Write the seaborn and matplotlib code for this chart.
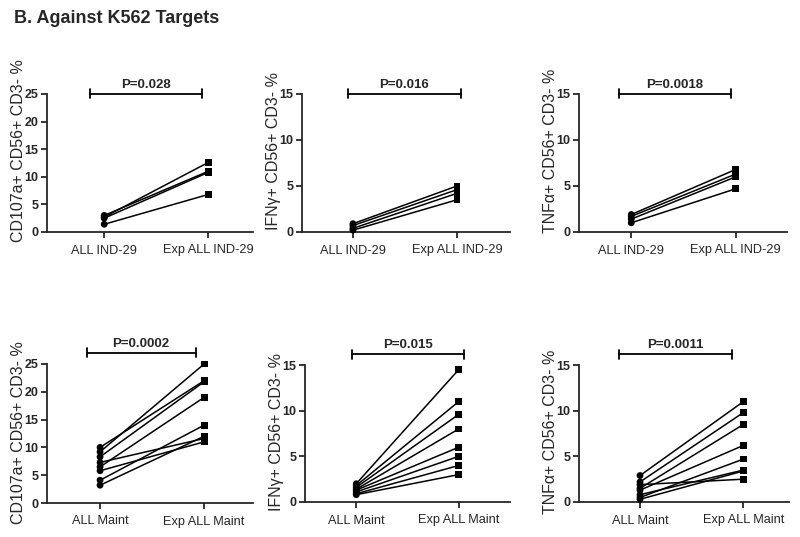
import pandas as pd
import seaborn as sns
import matplotlib.pyplot as plt

# B. Against K562 targets - paired before / after expansion
ind_groups = ["ALL IND-29", "Exp ALL IND-29"]
maint_groups = ["ALL Maint", "Exp ALL Maint"]

cd107a_ind_pre = [2.7, 3.0, 2.5, 1.4]
cd107a_ind_post = [12.6, 11.0, 10.8, 6.8]
ifng_ind_pre = [0.9, 0.7, 0.4, 0.2]
ifng_ind_post = [5.0, 4.6, 4.2, 3.5]
tnfa_ind_pre = [1.9, 1.7, 1.4, 1.0]
tnfa_ind_post = [6.8, 6.3, 6.0, 4.7]

cd107a_maint_pre = [9.2, 10.0, 8.3, 6.5, 4.1, 3.2, 7.3, 5.8]
cd107a_maint_post = [25.0, 22.0, 21.8, 19.0, 14.0, 12.0, 11.6, 11.0]
ifng_maint_pre = [2.0, 1.8, 1.6, 1.4, 1.3, 1.1, 0.9, 0.8]
ifng_maint_post = [14.5, 11.0, 9.6, 8.0, 6.0, 5.0, 4.0, 3.0]
tnfa_maint_pre = [2.9, 2.2, 1.5, 1.3, 0.5, 0.8, 0.3, 1.9]
tnfa_maint_post = [11.0, 9.8, 8.5, 6.2, 4.7, 3.5, 3.4, 2.5]

y_labels = ["CD107a+ CD56+ CD3- %", "IFN\u03b3+ CD56+ CD3- %", "TNF\u03b1+ CD56+ CD3- %"] * 2
p_values = ["P=0.028", "P=0.016", "P=0.0018", "P=0.0002", "P=0.015", "P=0.0011"]
y_max = [25, 15, 15, 25, 15, 15]

panels = [
    (ind_groups, cd107a_ind_pre, cd107a_ind_post),
    (ind_groups, ifng_ind_pre, ifng_ind_post),
    (ind_groups, tnfa_ind_pre, tnfa_ind_post),
    (maint_groups, cd107a_maint_pre, cd107a_maint_post),
    (maint_groups, ifng_maint_pre, ifng_maint_post),
    (maint_groups, tnfa_maint_pre, tnfa_maint_post),
]

# layout (pixels -> figure fractions) and per-panel x range / bracket span
W, H = 800, 537
rects = [
    (47, 232, 206, 138), (302, 232, 208, 138), (579, 232, 208, 138),
    (47, 503, 206, 139), (305, 502, 205, 137), (579, 502, 210, 137),
]
xlims = [(-0.55, 1.43), (-0.49, 1.51), (-0.5, 1.49),
         (-0.51, 1.47), (-0.5, 1.5), (-0.59, 1.44)]
brackets = [(-0.14, 0.94), (-0.05, 1.04), (-0.12, 0.95),
            (-0.13, 0.92), (-0.04, 1.05), (-0.2, 0.89)]

sns.set_style("ticks")
plt.rcParams["font.family"] = ["Liberation Sans", "DejaVu Sans"]

fig = plt.figure(figsize=(8, 5.37), dpi=100)
fig.text(0.018, 0.966, "B. Against K562 Targets", fontsize=13,
         fontweight="bold", va="center")

for i, (groups, pre, post) in enumerate(panels):
    left, bottom, w, h = rects[i]
    ax = fig.add_axes([left / W, 1 - bottom / H, w / W, h / H])
    n = len(pre)
    df = pd.DataFrame({
        "subject": list(range(n)) * 2,
        "group": [groups[0]] * n + [groups[1]] * n,
        "value": pre + post,
    })
    sns.lineplot(data=df, x="group", y="value", units="subject", estimator=None,
                 color="black", lw=1.1, ax=ax)
    sns.scatterplot(data=df, x="group", y="value", style="group",
                    markers={groups[0]: "o", groups[1]: "s"}, color="black",
                    s=24, linewidth=0, legend=False, ax=ax, zorder=3, clip_on=False)

    ym = y_max[i]
    ax.set_ylim(0, ym)
    ax.set_yticks(range(0, ym + 1, 5))
    ax.set_xlim(*xlims[i])
    ax.set_xlabel("")
    ax.set_ylabel(y_labels[i], fontsize=11.5)
    ax.yaxis.set_label_coords(-21 / w, 0.59 if i < 3 else 0.51)
    sns.despine(ax=ax)
    for s in ["left", "bottom"]:
        ax.spines[s].set_linewidth(1.3)
    ax.tick_params(axis="y", labelsize=9, width=1.3, length=4, pad=2)
    ax.tick_params(axis="x", labelsize=9.2, width=1.3, length=4, pad=5)
    for lab in ax.get_yticklabels():
        lab.set_fontweight("bold")

    # significance bracket
    yb = ym if i < 3 else ym * 1.08
    cap = ym * 4.5 / 138
    x0, x1 = brackets[i]
    kw = dict(color="black", lw=1.3, clip_on=False)
    ax.plot([x0, x1], [yb, yb], **kw)
    ax.plot([x0, x0], [yb - cap, yb + cap], **kw)
    ax.plot([x1, x1], [yb - cap, yb + cap], **kw)
    ax.text((x0 + x1) / 2, yb + cap * 0.6, p_values[i], ha="center", va="bottom",
            fontsize=9.5, fontweight="bold")

fig.savefig("out.png", dpi=100)
